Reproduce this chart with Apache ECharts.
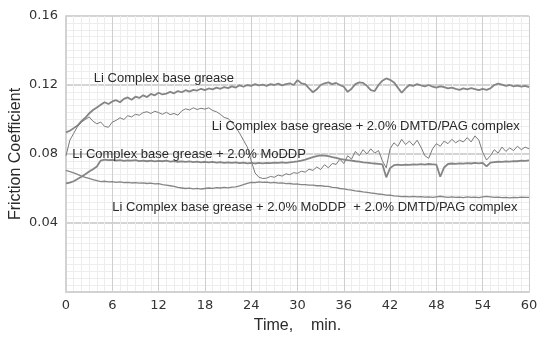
<!DOCTYPE html>
<html>
<head>
<meta charset="utf-8">
<script src="https://cdn.jsdelivr.net/npm/echarts@6/dist/echarts.min.js"></script>
<style>
html,body{margin:0;padding:0;background:#fff;}
#chart{width:551px;height:343px;}
</style>
</head>
<body>
<div id="chart"></div>
<script>
// Time, min.
const time = [
  0,0.5,1,1.5,2,2.5,3,3.5,4,4.5,
  5,5.5,6,6.5,7,7.5,8,8.5,9,9.5,
  10,10.5,11,11.5,12,12.5,13,13.5,14,14.5,
  15,15.5,16,16.5,17,17.5,18,18.5,19,19.5,
  20,20.5,21,21.5,22,22.5,23,23.5,24,24.5,
  25,25.5,26,26.5,27,27.5,28,28.5,29,29.5,
  30,30.5,31,31.5,32,32.5,33,33.5,34,34.5,
  35,35.5,36,36.5,37,37.5,38,38.5,39,39.5,
  40,40.5,41,41.5,42,42.5,43,43.5,44,44.5,
  45,45.5,46,46.5,47,47.5,48,48.5,49,49.5,
  50,50.5,51,51.5,52,52.5,53,53.5,54,54.5,
  55,55.5,56,56.5,57,57.5,58,58.5,59,59.5,
  60
];
// Li Complex base grease
const baseGrease = [
  0.0925,0.0935,0.0950,0.0965,0.0990,0.1010,0.1035,0.1055,0.1070,0.1085,
  0.1100,0.1090,0.1105,0.1112,0.1100,0.1120,0.1128,0.1115,0.1132,0.1125,
  0.1140,0.1130,0.1148,0.1140,0.1155,0.1145,0.1150,0.1160,0.1152,0.1165,
  0.1158,0.1170,0.1162,0.1172,0.1168,0.1178,0.1170,0.1180,0.1175,0.1185,
  0.1178,0.1188,0.1182,0.1192,0.1185,0.1198,0.1190,0.1200,0.1195,0.1205,
  0.1198,0.1202,0.1195,0.1205,0.1200,0.1208,0.1198,0.1205,0.1210,0.1200,
  0.1228,0.1210,0.1205,0.1180,0.1158,0.1175,0.1200,0.1210,0.1215,0.1205,
  0.1212,0.1200,0.1190,0.1160,0.1178,0.1205,0.1215,0.1212,0.1195,0.1170,
  0.1165,0.1200,0.1225,0.1238,0.1230,0.1215,0.1185,0.1155,0.1180,0.1200,
  0.1195,0.1205,0.1198,0.1192,0.1200,0.1190,0.1185,0.1192,0.1188,0.1180,
  0.1185,0.1178,0.1172,0.1180,0.1175,0.1182,0.1176,0.1170,0.1178,0.1172,
  0.1180,0.1200,0.1208,0.1202,0.1195,0.1200,0.1192,0.1196,0.1190,0.1195,
  0.1188
];
// Li Complex base grease + 2.0% DMTD/PAG complex
const withDMTD = [
  0.0790,0.0880,0.0920,0.0960,0.0985,0.1000,0.1015,0.0990,0.0975,0.0985,
  0.0960,0.0955,0.0985,0.0995,0.1010,0.1000,0.1022,0.1015,0.1030,0.1025,
  0.1040,0.1045,0.1035,0.1048,0.1040,0.1030,0.1042,0.1028,0.1035,0.1025,
  0.1050,0.1062,0.1055,0.1068,0.1058,0.1065,0.1060,0.1068,0.1052,0.1045,
  0.1030,0.1012,0.1005,0.0985,0.0955,0.0920,0.0880,0.0840,0.0760,0.0690,
  0.0665,0.0658,0.0660,0.0670,0.0665,0.0678,0.0672,0.0685,0.0680,0.0692,
  0.0688,0.0700,0.0695,0.0712,0.0705,0.0725,0.0710,0.0738,0.0720,0.0745,
  0.0740,0.0770,0.0745,0.0790,0.0770,0.0815,0.0790,0.0825,0.0800,0.0830,
  0.0805,0.0820,0.0760,0.0720,0.0830,0.0865,0.0845,0.0885,0.0855,0.0875,
  0.0850,0.0880,0.0840,0.0790,0.0775,0.0830,0.0860,0.0845,0.0875,0.0860,
  0.0885,0.0865,0.0880,0.0870,0.0895,0.0870,0.0905,0.0880,0.0810,0.0765,
  0.0790,0.0825,0.0805,0.0840,0.0815,0.0835,0.0820,0.0845,0.0825,0.0840,
  0.0830
];
// Li Complex base grease + 2.0% MoDDP
const withMoDDP = [
  0.0630,0.0634,0.0642,0.0655,0.0668,0.0682,0.0698,0.0712,0.0728,0.0762,
  0.0768,0.0764,0.0766,0.0762,0.0765,0.0760,0.0763,0.0761,0.0764,0.0759,
  0.0762,0.0758,0.0761,0.0757,0.0760,0.0758,0.0761,0.0756,0.0759,0.0755,
  0.0757,0.0754,0.0757,0.0753,0.0756,0.0752,0.0755,0.0751,0.0754,0.0750,
  0.0753,0.0749,0.0752,0.0748,0.0751,0.0747,0.0750,0.0746,0.0749,0.0745,
  0.0748,0.0746,0.0749,0.0747,0.0750,0.0748,0.0751,0.0749,0.0752,0.0754,
  0.0757,0.0762,0.0768,0.0775,0.0782,0.0788,0.0792,0.0790,0.0788,0.0782,
  0.0778,0.0772,0.0768,0.0764,0.0762,0.0758,0.0756,0.0752,0.0750,0.0747,
  0.0745,0.0743,0.0740,0.0665,0.0718,0.0735,0.0738,0.0736,0.0739,0.0737,
  0.0740,0.0738,0.0741,0.0739,0.0742,0.0740,0.0738,0.0668,0.0722,0.0742,
  0.0745,0.0743,0.0746,0.0744,0.0747,0.0745,0.0748,0.0746,0.0749,0.0728,
  0.0750,0.0753,0.0755,0.0754,0.0757,0.0756,0.0759,0.0758,0.0761,0.0760,
  0.0763
];
// Li Complex base grease + 2.0% MoDDP + 2.0% DMTD/PAG complex
const withBoth = [
  0.0705,0.0698,0.0690,0.0682,0.0672,0.0665,0.0658,0.0652,0.0646,0.0640,
  0.0642,0.0638,0.0640,0.0636,0.0638,0.0634,0.0636,0.0632,0.0634,0.0631,
  0.0633,0.0629,0.0631,0.0627,0.0628,0.0622,0.0620,0.0616,0.0612,0.0606,
  0.0603,0.0600,0.0602,0.0598,0.0601,0.0597,0.0600,0.0603,0.0601,0.0605,
  0.0603,0.0606,0.0604,0.0608,0.0610,0.0615,0.0622,0.0630,0.0636,0.0634,
  0.0638,0.0635,0.0637,0.0633,0.0635,0.0631,0.0632,0.0628,0.0629,0.0625,
  0.0626,0.0622,0.0623,0.0619,0.0620,0.0616,0.0617,0.0613,0.0612,0.0607,
  0.0605,0.0600,0.0598,0.0593,0.0591,0.0586,0.0584,0.0580,0.0578,0.0574,
  0.0572,0.0568,0.0566,0.0562,0.0561,0.0557,0.0556,0.0553,0.0554,0.0551,
  0.0554,0.0551,0.0553,0.0550,0.0552,0.0549,0.0552,0.0555,0.0552,0.0549,
  0.0551,0.0548,0.0550,0.0547,0.0551,0.0548,0.0550,0.0547,0.0551,0.0554,
  0.0551,0.0548,0.0550,0.0547,0.0549,0.0546,0.0549,0.0547,0.0550,0.0548,
  0.0549
];
const seriesNames = [
  'Li Complex base grease',
  'Li Complex base grease + 2.0% DMTD/PAG complex',
  'Li Complex base grease + 2.0% MoDDP',
  'Li Complex base grease + 2.0% MoDDP  + 2.0% DMTD/PAG complex'
];
// annotation anchors (left edge, vertical centre) in data units
const labelX = [3.6, 18.9, 0.8, 6.0];
const labelY = [0.1240, 0.0957, 0.0800, 0.0493];

const zip = (ys) => time.map((t, i) => [t, ys[i]]);

const chart = echarts.init(document.getElementById('chart'), null, {renderer: 'canvas'});
const lineColor = '#858585';
chart.setOption({
  animation: false,
  backgroundColor: '#ffffff',
  grid: {left: 66, right: 22, top: 16, bottom: 51, containLabel: false, outerBoundsMode: 'none'},
  xAxis: {
    type: 'value', min: 0, max: 60, interval: 6,
    name: 'Time,    min.', nameLocation: 'middle', nameGap: 26, nameMoveOverlap: false,
    nameTextStyle: {fontFamily: 'Liberation Sans', fontSize: 16, color: '#2a2a2a'},
    axisLine: {show: true, lineStyle: {color: '#d2d2d2', width: 2}},
    axisTick: {show: false},
    axisLabel: {fontFamily: 'DejaVu Sans', fontSize: 13, color: '#333', margin: 7},
    splitLine: {show: true, lineStyle: {color: '#cfcfcf', width: 1}},
    minorTick: {show: false, splitNumber: 6},
    minorSplitLine: {show: true, lineStyle: {color: '#ededed', width: 1}}
  },
  yAxis: {
    type: 'value', min: 0, max: 0.16, interval: 0.04,
    name: 'Friction Coefficient', nameLocation: 'middle', nameGap: 42, nameMoveOverlap: false,
    nameTextStyle: {fontFamily: 'Liberation Sans', fontSize: 16, color: '#2a2a2a'},
    axisLine: {show: true, lineStyle: {color: '#d2d2d2', width: 2}},
    axisTick: {show: false},
    axisLabel: {fontFamily: 'DejaVu Sans', fontSize: 13, color: '#333', margin: 8,
      formatter: (v) => v === 0 ? '' : v.toFixed(2)},
    splitLine: {show: true, lineStyle: {color: '#d4d4d4', width: 2}},
    minorTick: {show: false, splitNumber: 10},
    minorSplitLine: {show: true, lineStyle: {color: '#ededed', width: 1}}
  },
  series: [
    {name: seriesNames[0], type: 'line', data: zip(baseGrease), showSymbol: false,
     lineStyle: {color: lineColor, width: 1.8}},
    {name: seriesNames[1], type: 'line', data: zip(withDMTD), showSymbol: false,
     lineStyle: {color: '#7a7a7a', width: 1}},
    {name: seriesNames[2], type: 'line', data: zip(withMoDDP), showSymbol: false,
     lineStyle: {color: lineColor, width: 1.8}},
    {name: seriesNames[3], type: 'line', data: zip(withBoth), showSymbol: false,
     lineStyle: {color: lineColor, width: 1.3}}
  ]
});

const graphics = seriesNames.map((txt, i) => {
  const p = chart.convertToPixel({gridIndex: 0}, [labelX[i], labelY[i]]);
  return {
    type: 'text', x: p[0], y: p[1], z: 100,
    style: {text: txt, fill: '#2a2a2a', font: '13px "Liberation Sans"',
      textAlign: 'left', textVerticalAlign: 'middle'}
  };
});
chart.setOption({graphic: graphics});
</script>
</body>
</html>
